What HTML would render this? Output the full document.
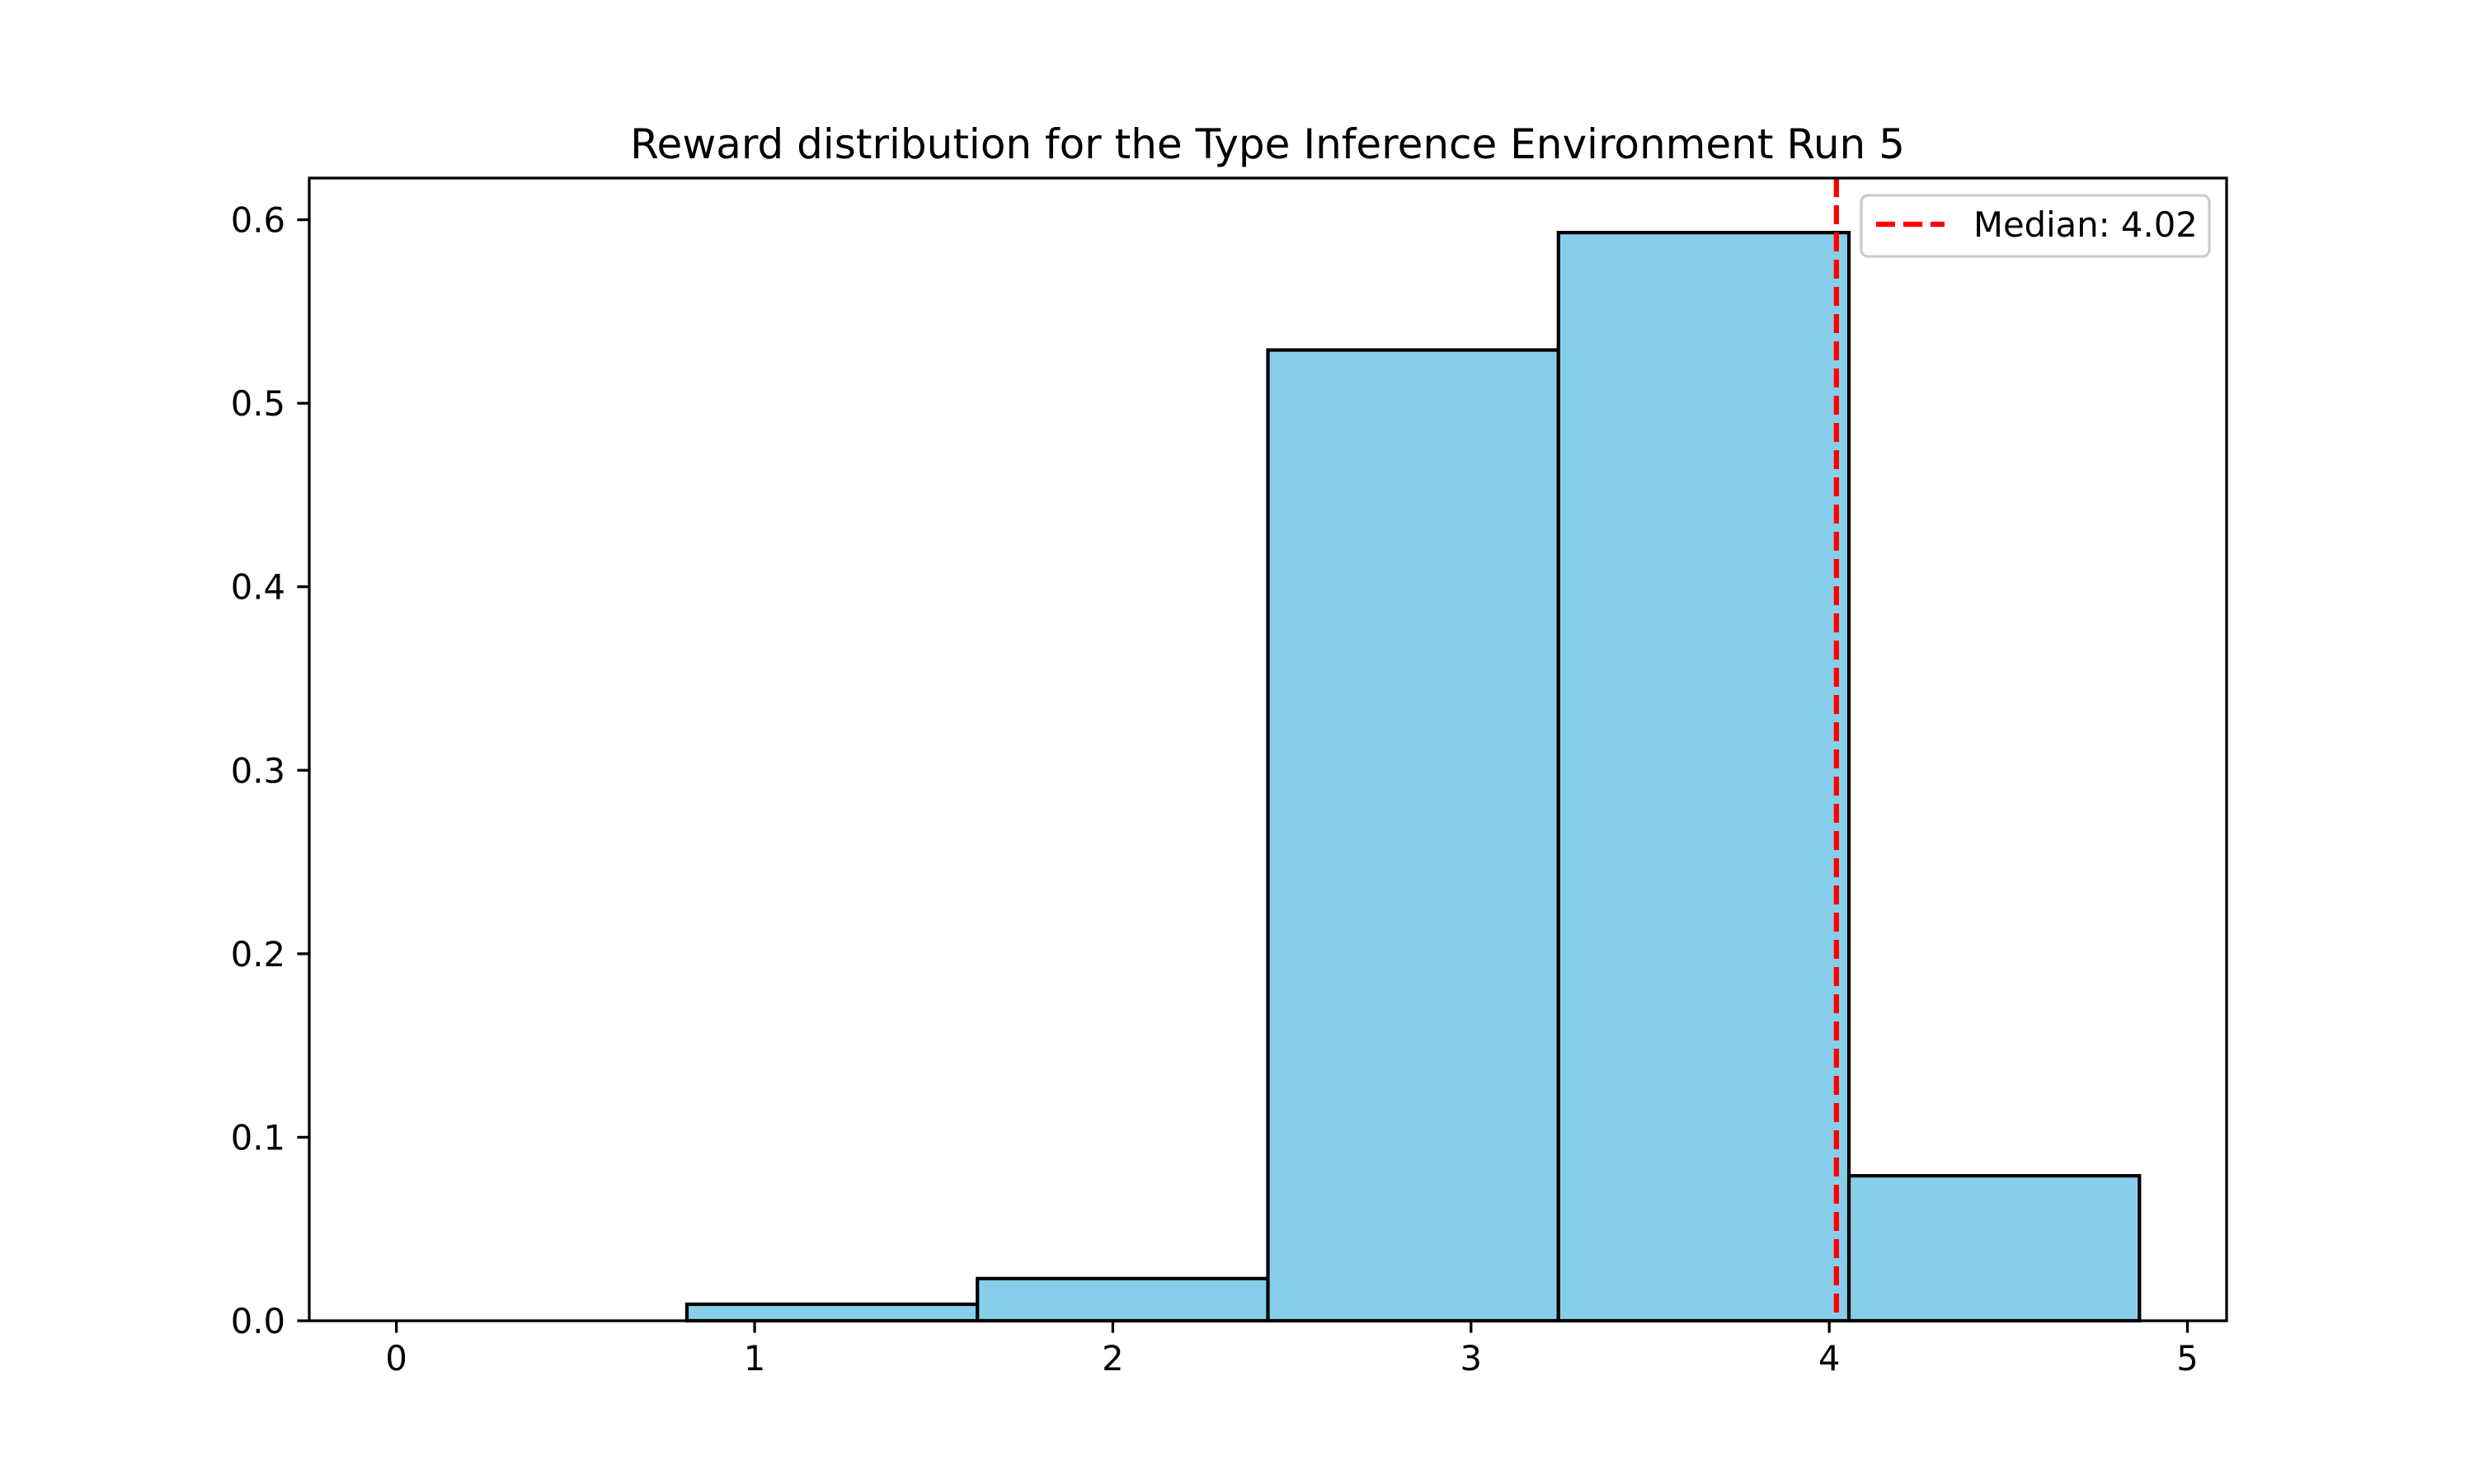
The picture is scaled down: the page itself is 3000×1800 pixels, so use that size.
<!DOCTYPE html>
<html><head><meta charset="utf-8"><style>
html,body{margin:0;padding:0;background:#fff}
svg{display:block;font-family:"DejaVu Sans","Liberation Sans",sans-serif}
</style></head><body>
<svg id="chart" width="3000" height="1800" viewBox="0 0 3000 1800">
<rect width="3000" height="1800" fill="#fff"/>
<text x="1537" y="192" font-size="50" text-anchor="middle">Reward distribution for the Type Inference Environment Run 5</text>
<g id="bars"></g>
<g id="median"></g>
<rect x="375" y="216" width="2325" height="1386" fill="none" stroke="#000" stroke-width="3.3"/>
<g id="xticks"></g>
<g id="yticks"></g>
<g>
<rect x="2257" y="237" width="422" height="74" rx="8" fill="#fff" fill-opacity="0.8" stroke="#ccc" stroke-width="3.3"/>
<line x1="2275" y1="272" x2="2358" y2="272" stroke="#ff0000" stroke-width="6.25" stroke-dasharray="23,10"/>
<text x="2393" y="287" font-size="41.7">Median: 4.02</text>
</g>
</svg>
<script>
const binEdges = [0, 0.811, 1.622, 2.433, 3.244, 4.055, 4.866];
const densities = [0.0, 0.009, 0.023, 0.529, 0.593, 0.079];
const medianValue = 4.02;
const xTicks = [0, 1, 2, 3, 4, 5];
const yTicks = [0.0, 0.1, 0.2, 0.3, 0.4, 0.5, 0.6];

const AX = {l:375, r:2700, t:216, b:1602};
const xMin = -0.2433, xMax = 5.1093, yMin = 0, yMax = 0.6227;
const sx = v => AX.l + (v - xMin) / (xMax - xMin) * (AX.r - AX.l);
const sy = v => AX.b - (v - yMin) / (yMax - yMin) * (AX.b - AX.t);
const NS = 'http://www.w3.org/2000/svg';
function mk(tag, attrs, parent){const e=document.createElementNS(NS,tag);for(const k in attrs)e.setAttribute(k,attrs[k]);parent.appendChild(e);return e;}

const bars = document.getElementById('bars');
densities.forEach((d,i)=>{
  const x0=sx(binEdges[i]), x1=sx(binEdges[i+1]), y=sy(d);
  const r = mk('rect',{x:x0,y:y,width:x1-x0,height:AX.b-y,fill:'#87ceeb',stroke:'#000','stroke-width':4.2},bars);
  
  
});

const med = document.getElementById('median');
const ml = mk('line',{x1:sx(medianValue),x2:sx(medianValue),y1:AX.t,y2:AX.b,stroke:'#ff0000','stroke-width':6.25,'stroke-dasharray':'23,10'},med);



const xt = document.getElementById('xticks');
xTicks.forEach(v=>{
  const x=sx(v);
  const t=mk('line',{x1:x,x2:x,y1:AX.b,y2:AX.b+14.6,stroke:'#000','stroke-width':3.3},xt);
  
  
  const l=mk('text',{x:x,y:AX.b+60,'font-size':41.7,'text-anchor':'middle'},xt);
  l.textContent=String(v);
  
  
});
const yt = document.getElementById('yticks');
yTicks.forEach(v=>{
  const y=sy(v);
  const t=mk('line',{x1:AX.l-14.6,x2:AX.l,y1:y,y2:y,stroke:'#000','stroke-width':3.3},yt);
  
  
  const l=mk('text',{x:AX.l-29,y:y+15,'font-size':41.7,'text-anchor':'end'},yt);
  l.textContent=v.toFixed(1);
  
  
});
</script>
</body></html>
